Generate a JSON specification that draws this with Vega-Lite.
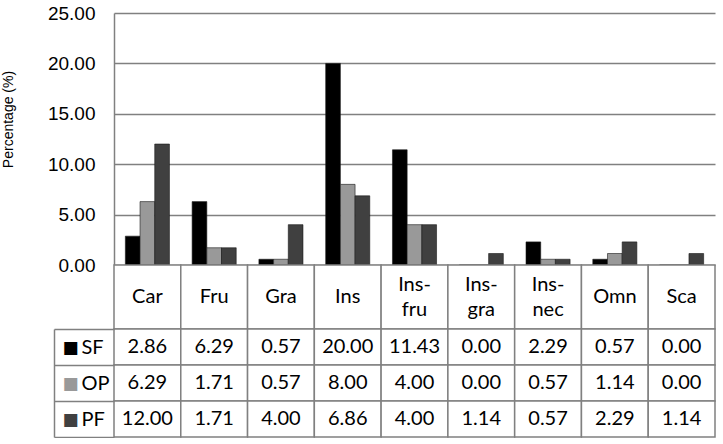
{
  "$schema": "https://vega.github.io/schema/vega-lite/v6.json",
  "padding": {"left": 1, "top": 4, "right": 0, "bottom": 0},
  "background": "white",
  "datasets": {
    "vals": [
      {"cat": "Car", "series": "SF", "value": 2.86},
      {"cat": "Fru", "series": "SF", "value": 6.29},
      {"cat": "Gra", "series": "SF", "value": 0.57},
      {"cat": "Ins", "series": "SF", "value": 20.00},
      {"cat": "Ins-fru", "series": "SF", "value": 11.43},
      {"cat": "Ins-gra", "series": "SF", "value": 0.00},
      {"cat": "Ins-nec", "series": "SF", "value": 2.29},
      {"cat": "Omn", "series": "SF", "value": 0.57},
      {"cat": "Sca", "series": "SF", "value": 0.00},
      {"cat": "Car", "series": "OP", "value": 6.29},
      {"cat": "Fru", "series": "OP", "value": 1.71},
      {"cat": "Gra", "series": "OP", "value": 0.57},
      {"cat": "Ins", "series": "OP", "value": 8.00},
      {"cat": "Ins-fru", "series": "OP", "value": 4.00},
      {"cat": "Ins-gra", "series": "OP", "value": 0.00},
      {"cat": "Ins-nec", "series": "OP", "value": 0.57},
      {"cat": "Omn", "series": "OP", "value": 1.14},
      {"cat": "Sca", "series": "OP", "value": 0.00},
      {"cat": "Car", "series": "PF", "value": 12.00},
      {"cat": "Fru", "series": "PF", "value": 1.71},
      {"cat": "Gra", "series": "PF", "value": 4.00},
      {"cat": "Ins", "series": "PF", "value": 6.86},
      {"cat": "Ins-fru", "series": "PF", "value": 4.00},
      {"cat": "Ins-gra", "series": "PF", "value": 1.14},
      {"cat": "Ins-nec", "series": "PF", "value": 0.57},
      {"cat": "Omn", "series": "PF", "value": 2.29},
      {"cat": "Sca", "series": "PF", "value": 1.14}
    ],
    "cats": [
      {"cat": "Car", "label": "Car", "lines": 1},
      {"cat": "Fru", "label": "Fru", "lines": 1},
      {"cat": "Gra", "label": "Gra", "lines": 1},
      {"cat": "Ins", "label": "Ins", "lines": 1},
      {"cat": "Ins-fru", "label": "Ins-\nfru", "lines": 2},
      {"cat": "Ins-gra", "label": "Ins-\ngra", "lines": 2},
      {"cat": "Ins-nec", "label": "Ins-\nnec", "lines": 2},
      {"cat": "Omn", "label": "Omn", "lines": 1},
      {"cat": "Sca", "label": "Sca", "lines": 1}
    ]
  },
  "spacing": 0,
  "bounds": "flush",
  "vconcat": [
    {
      "width": 601,
      "height": 252,
      "data": {"name": "vals"},
      "mark": {"type": "bar", "stroke": "#1a1a1a", "strokeWidth": 0.6},
      "encoding": {
        "x": {
          "field": "cat", "type": "nominal",
          "sort": ["Car", "Fru", "Gra", "Ins", "Ins-fru", "Ins-gra", "Ins-nec", "Omn", "Sca"],
          "scale": {"paddingInner": 0.34, "paddingOuter": 0.17},
          "axis": null
        },
        "xOffset": {"field": "series", "type": "nominal", "sort": ["SF", "OP", "PF"], "scale": {"paddingInner": 0, "paddingOuter": 0}},
        "y": {
          "field": "value", "type": "quantitative",
          "scale": {"domain": [0, 25], "nice": false},
          "axis": {
            "values": [0, 5, 10, 15, 20, 25],
            "format": ".2f",
            "title": "Percentage (%)",
            "titleFont": "Liberation Sans",
            "titleFontSize": 14,
            "titleFontWeight": "normal",
            "titleColor": "#000000",
            "titlePadding": 32,
            "titleY": 106,
            "labelFont": "Liberation Sans",
            "labelFontSize": 19,
            "labelColor": "#000000",
            "labelPadding": 19,
            "ticks": false,
            "domainColor": "#808080",
            "domainWidth": 1.5,
            "gridColor": "#808080",
            "gridWidth": 1.5,
            "gridOpacity": 1
          }
        },
        "color": {
          "field": "series", "type": "nominal",
          "scale": {"domain": ["SF", "OP", "PF"], "range": ["#000000", "#999999", "#404040"]},
          "legend": null
        }
      }
    },
    {
      "width": 601,
      "height": 64,
      "data": {"name": "cats"},
      "encoding": {
        "x": {
          "field": "cat", "type": "nominal",
          "sort": ["Car", "Fru", "Gra", "Ins", "Ins-fru", "Ins-gra", "Ins-nec", "Omn", "Sca"],
          "scale": {"paddingInner": 0, "paddingOuter": 0},
          "axis": null
        }
      },
      "layer": [
        {"mark": {"type": "rect", "fill": "white", "stroke": "#808080", "strokeWidth": 1.5}},
        {"transform": [{"filter": "datum.lines == 1"}],
         "mark": {"type": "text", "font": "Lato", "fontSize": 20, "color": "#000000"},
         "encoding": {"text": {"field": "label"}}},
        {"transform": [{"filter": "datum.lines == 2"}],
         "mark": {"type": "text", "font": "Lato", "fontSize": 20, "lineBreak": "\n", "lineHeight": 25, "dy": -12.5, "color": "#000000"},
         "encoding": {"text": {"field": "label"}}}
      ]
    },
    {
      "width": 601,
      "height": 108,
      "data": {"name": "vals"},
      "encoding": {
        "x": {
          "field": "cat", "type": "nominal",
          "sort": ["Car", "Fru", "Gra", "Ins", "Ins-fru", "Ins-gra", "Ins-nec", "Omn", "Sca"],
          "scale": {"paddingInner": 0, "paddingOuter": 0},
          "axis": null
        }
      },
      "layer": [
        {
          "mark": {"type": "rect", "fill": "white", "stroke": "#808080", "strokeWidth": 1.5},
          "encoding": {
            "y": {
              "field": "series", "type": "nominal", "sort": ["SF", "OP", "PF"],
              "scale": {"paddingInner": 0, "paddingOuter": 0},
              "axis": {
                "title": null,
                "orient": "left",
                "domain": false,
                "tickBand": "extent",
                "tickSize": 60,
                "tickColor": "#808080",
                "tickWidth": 1.5,
                "labelAlign": "left",
                "labelPadding": -27,
                "labelFont": "Lato",
                "labelFontSize": 20,
                "labelColor": "#000000"
              }
            }
          }
        },
        {
          "mark": {"type": "text", "font": "Lato", "fontSize": 20, "color": "#000000"},
          "encoding": {
            "y": {"field": "series", "type": "nominal", "sort": ["SF", "OP", "PF"], "scale": {"paddingInner": 0, "paddingOuter": 0}, "axis": null},
            "text": {"field": "value", "type": "quantitative", "format": ".2f"}
          }
        },
        {
          "mark": {"type": "point", "opacity": 0},
          "encoding": {
            "y": {
              "field": "series", "type": "nominal", "sort": ["SF", "OP", "PF"],
              "scale": {"paddingInner": 0, "paddingOuter": 0},
              "axis": {
                "title": null,
                "orient": "left",
                "offset": 60,
                "domain": true,
                "domainColor": "#808080",
                "domainWidth": 1.5,
                "ticks": false,
                "labelExpr": "'■'",
                "labelAlign": "left",
                "labelPadding": -8,
                "labelFont": "DejaVu Sans",
                "labelFontSize": 17,
                "labelColor": {
                  "condition": [
                    {"test": "datum.value === 'SF'", "value": "#000000"},
                    {"test": "datum.value === 'OP'", "value": "#999999"}
                  ],
                  "value": "#404040"
                }
              }
            }
          }
        }
      ],
      "resolve": {"scale": {"y": "independent"}, "axis": {"y": "independent"}}
    }
  ],
  "config": {
    "view": {"stroke": null}
  }
}
